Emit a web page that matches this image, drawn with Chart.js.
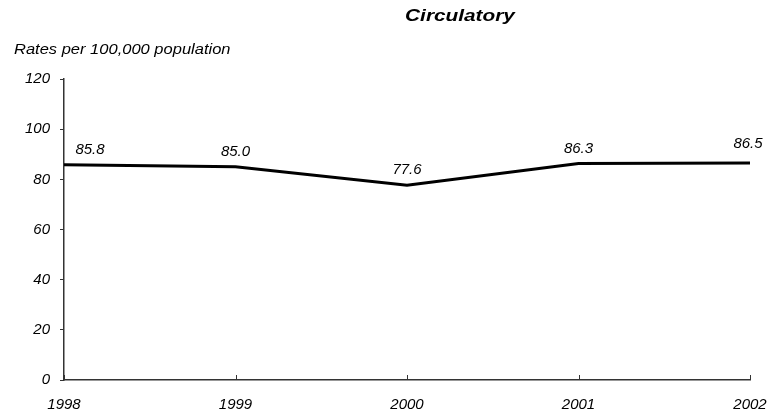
<!DOCTYPE html>
<html>
<head>
<meta charset="utf-8">
<script src="https://cdn.jsdelivr.net/npm/chart.js@4.4.0/dist/chart.umd.min.js"></script>
<style>
html,body{margin:0;padding:0;background:#fff;}
#wrap{position:relative;width:772px;height:416px;}
</style>
</head>
<body>
<div id="wrap"><canvas id="c" width="772" height="416"></canvas></div>
<script>
const chartTitle = 'Circulatory';
const yAxisTitle = 'Rates per 100,000 population';
const years = ['1998', '1999', '2000', '2001', '2002'];
const rates = [85.8, 85.0, 77.6, 86.3, 86.5];
const yTicks = [0, 20, 40, 60, 80, 100, 120];

const FONT = 'Arial, "Liberation Sans", sans-serif';

function stretchedText(ctx, text, x, y, sx, align) {
  ctx.save();
  ctx.translate(x, y);
  ctx.scale(sx, 1);
  ctx.textAlign = align;
  ctx.fillText(text, 0, 0);
  ctx.restore();
}

const textPlugin = {
  id: 'textPlugin',
  afterDraw(chart) {
    const ctx = chart.ctx;
    const x = chart.scales.x;
    const area = chart.chartArea;
    ctx.save();
    // inward x tick marks
    ctx.strokeStyle = '#333';
    ctx.lineWidth = 1;
    x.ticks.forEach((t, i) => {
      const px = Math.round(x.getPixelForTick(i)) + 0.5;
      ctx.beginPath();
      ctx.moveTo(px, area.bottom);
      ctx.lineTo(px, area.bottom - 5);
      ctx.stroke();
    });
    ctx.fillStyle = '#000';
    ctx.textBaseline = 'alphabetic';
    // title
    ctx.font = 'italic bold 16px ' + FONT;
    stretchedText(ctx, chartTitle, 460, 21, 1.3, 'center');
    // y axis title
    ctx.font = 'italic 15px ' + FONT;
    stretchedText(ctx, yAxisTitle, 14, 54, 1.1, 'left');
    // data labels
    ctx.font = 'italic 15px ' + FONT;
    ctx.textAlign = 'center';
    const meta = chart.getDatasetMeta(0);
    meta.data.forEach((pt, i) => {
      let dx = 0, dy = 11;
      if (i === 0) dx = 26;
      if (i === meta.data.length - 1) { dx = -2; dy = 15; }
      ctx.fillText(rates[i].toFixed(1), pt.x + dx, pt.y - dy);
    });
    ctx.restore();
  }
};

new Chart(document.getElementById('c'), {
  type: 'line',
  data: {
    labels: years,
    datasets: [{
      data: rates,
      borderColor: '#000',
      borderWidth: 3,
      pointRadius: 0,
      tension: 0,
      fill: false
    }]
  },
  options: {
    responsive: false,
    animation: false,
    layout: { padding: { left: 0, right: 22, top: 79, bottom: 0 } },
    plugins: { legend: { display: false }, tooltip: { enabled: false } },
    scales: {
      x: {
        offset: false,
        afterFit: s => { s.height = 36; s.paddingLeft = 0; s.paddingRight = 0; },
        grid: { display: true, drawOnChartArea: false, drawTicks: false },
        border: { display: true, color: '#333', width: 1.5 },
        ticks: {
          color: '#000',
          font: { family: FONT, size: 15, style: 'italic' },
          padding: 16,
          maxRotation: 0,
          autoSkip: false
        }
      },
      y: {
        min: 0,
        max: 120,
        afterFit: s => { s.width = 64; s.paddingTop = 0; s.paddingBottom = 0; },
        afterBuildTicks: s => { s.ticks = yTicks.map(v => ({ value: v })); },
        grid: { display: true, drawOnChartArea: false, drawTicks: true, tickLength: 4, color: '#333' },
        border: { display: true, color: '#333', width: 1.5 },
        ticks: {
          color: '#000',
          font: { family: FONT, size: 15, style: 'italic' },
          padding: 10
        }
      }
    }
  },
  plugins: [textPlugin]
});
</script>
</body>
</html>
